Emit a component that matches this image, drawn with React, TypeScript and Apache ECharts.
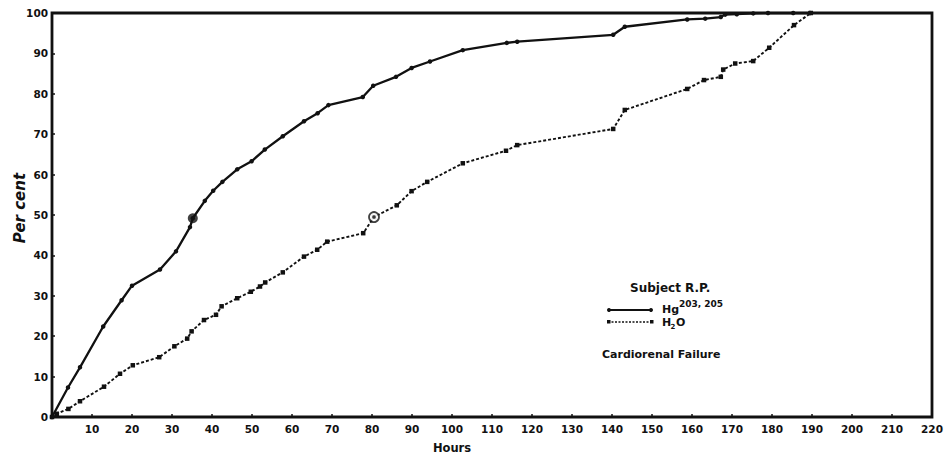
import React, { useEffect, useRef } from "react";
import * as echarts from "echarts";

const hgX = [0, 4, 7, 12.8, 17.4, 20, 27, 31, 34.5, 35.2, 38.2, 40.3, 42.6, 46.3, 49.9, 53.2, 57.7, 63, 66.4, 69.1, 77.7, 80.3, 86, 89.9, 94.5, 102.7, 113.7, 116.3, 140.3, 143.2, 158.8, 163.3, 167.2, 168.3, 171.2, 175.3, 179, 185.3, 189.5];
const hgY = [0, 7.3, 12.3, 22.4, 28.9, 32.5, 36.5, 41, 47, 49.2, 53.5, 56, 58.2, 61.3, 63.3, 66.2, 69.5, 73.2, 75.2, 77.2, 79.2, 82, 84.2, 86.4, 88, 90.8, 92.6, 92.9, 94.6, 96.6, 98.4, 98.6, 99, 99.6, 99.7, 99.9, 100, 100, 100];

const h2oX = [0, 1.2, 4.1, 7, 13, 17, 20.2, 26.8, 30.6, 33.8, 34.9, 38, 41, 42.4, 46.3, 49.7, 52, 53.3, 57.7, 63, 66.3, 68.8, 77.8, 80.5, 86.2, 89.9, 93.8, 102.7, 113.5, 116.3, 140.3, 143.2, 158.8, 163, 167.2, 167.8, 170.8, 175.3, 179.3, 185.5, 189.7];
const h2oY = [0, 0.8, 2, 3.9, 7.5, 10.7, 12.8, 14.8, 17.5, 19.4, 21.2, 24, 25.3, 27.4, 29.4, 31, 32.3, 33.3, 35.8, 39.7, 41.4, 43.4, 45.5, 49.5, 52.4, 55.9, 58.2, 62.8, 65.9, 67.3, 71.3, 76, 81.2, 83.4, 84.2, 86, 87.5, 88.1, 91.4, 97, 100];

const hgHalf = [35.2, 49.2];
const h2oHalf = [80.5, 49.5];

const xTicks = { min: 0, max: 220, step: 10 };
const yTicks = { min: 0, max: 100, step: 10 };

const FONT = "DejaVu Sans";
const INK = "#111";

export default function App() {
  const ref = useRef<HTMLDivElement>(null);
  useEffect(() => {
    if (!ref.current) return;
    const chart = echarts.init(ref.current, null, { renderer: "svg" });
    const zip = (xs: number[], ys: number[]) => xs.map((x, i) => [x, ys[i]]);
    chart.setOption({
      animation: false,
      backgroundColor: "#fff",
      grid: { left: 52, right: 19, top: 13, bottom: 39, show: true, borderColor: INK, borderWidth: 2.8, backgroundColor: "transparent" },
      xAxis: {
        type: "value",
        min: xTicks.min,
        max: xTicks.max,
        interval: xTicks.step,
        axisLine: { show: false },
        axisTick: { show: true, inside: true, length: 3, lineStyle: { color: INK, width: 1.5 } },
        splitLine: { show: false },
        axisLabel: {
          margin: 6,
          color: INK,
          fontFamily: FONT,
          fontWeight: "bold",
          fontSize: 10.5,
          formatter: (v: number) => (v === 0 ? "" : String(v)),
        },
      },
      yAxis: {
        type: "value",
        min: yTicks.min,
        max: yTicks.max,
        interval: yTicks.step,
        axisLine: { show: false },
        axisTick: { show: true, inside: true, length: 3, lineStyle: { color: INK, width: 1.5 } },
        splitLine: { show: false },
        axisLabel: { margin: 4, color: INK, fontFamily: FONT, fontWeight: "bold", fontSize: 10.5 },
      },
      series: [
        {
          type: "line",
          name: "Hg",
          data: zip(hgX, hgY),
          symbol: "circle",
          symbolSize: 4.5,
          showSymbol: true,
          lineStyle: { color: INK, width: 2.3 },
          itemStyle: { color: INK },
          z: 3,
        },
        {
          type: "line",
          name: "H2O",
          data: zip(h2oX, h2oY),
          symbol: "rect",
          symbolSize: 4.5,
          showSymbol: true,
          lineStyle: { color: INK, width: 1.9, type: [3, 2] },
          itemStyle: { color: INK },
          z: 3,
        },
        {
          type: "scatter",
          data: [hgHalf],
          symbol: "circle",
          symbolSize: 10,
          itemStyle: { color: INK },
          z: 4,
        },
        {
          type: "scatter",
          data: [h2oHalf],
          symbol: "circle",
          symbolSize: 10,
          itemStyle: { color: "#fff", borderColor: INK, borderWidth: 1.8 },
          z: 4,
        },
        {
          type: "scatter",
          data: [h2oHalf],
          symbol: "circle",
          symbolSize: 3.5,
          itemStyle: { color: INK },
          z: 5,
        },
      ],
      graphic: [
        {
          type: "text",
          x: 20,
          y: 208,
          rotation: Math.PI / 2,
          style: { text: "Per cent", font: `italic bold 15px ${FONT}`, fill: INK, align: "center", verticalAlign: "middle" },
        },
        {
          type: "text",
          x: 452,
          y: 448,
          style: { text: "Hours", font: `bold 11.5px ${FONT}`, fill: INK, align: "center", verticalAlign: "middle" },
        },
        {
          type: "text",
          x: 630,
          y: 288,
          style: { text: "Subject R.P.", font: `bold 12px ${FONT}`, fill: INK, align: "left", verticalAlign: "middle" },
        },
        { type: "line", shape: { x1: 608, y1: 310, x2: 652, y2: 310 }, style: { stroke: INK, lineWidth: 1.8 } },
        { type: "circle", shape: { cx: 609, cy: 310, r: 2 }, style: { fill: INK } },
        { type: "circle", shape: { cx: 651, cy: 310, r: 2 }, style: { fill: INK } },
        { type: "line", shape: { x1: 608, y1: 322, x2: 652, y2: 322 }, style: { stroke: INK, lineWidth: 1.4, lineDash: [2, 1.5] } },
        { type: "rect", shape: { x: 607, y: 320, width: 3.5, height: 3.5 }, style: { fill: INK } },
        { type: "rect", shape: { x: 650, y: 320, width: 3.5, height: 3.5 }, style: { fill: INK } },
        {
          type: "text",
          x: 662,
          y: 309.5,
          style: { text: "Hg", font: `bold 11px ${FONT}`, fill: INK, align: "left", verticalAlign: "middle" },
        },
        {
          type: "text",
          x: 679,
          y: 304,
          style: { text: "203, 205", font: `bold 9px ${FONT}`, fill: INK, align: "left", verticalAlign: "middle" },
        },
        {
          type: "text",
          x: 662,
          y: 322.5,
          style: { text: "H", font: `bold 11px ${FONT}`, fill: INK, align: "left", verticalAlign: "middle" },
        },
        {
          type: "text",
          x: 670.5,
          y: 326.5,
          style: { text: "2", font: `bold 7px ${FONT}`, fill: INK, align: "left", verticalAlign: "middle" },
        },
        {
          type: "text",
          x: 676,
          y: 322.5,
          style: { text: "O", font: `bold 11px ${FONT}`, fill: INK, align: "left", verticalAlign: "middle" },
        },
        {
          type: "text",
          x: 602,
          y: 354,
          style: { text: "Cardiorenal Failure", font: `bold 11px ${FONT}`, fill: INK, align: "left", verticalAlign: "middle" },
        },
      ],
    });
    return () => chart.dispose();
  }, []);
  return <div ref={ref} style={{ width: 951, height: 456, position: "absolute", left: 0, top: 0 }} />;
}
